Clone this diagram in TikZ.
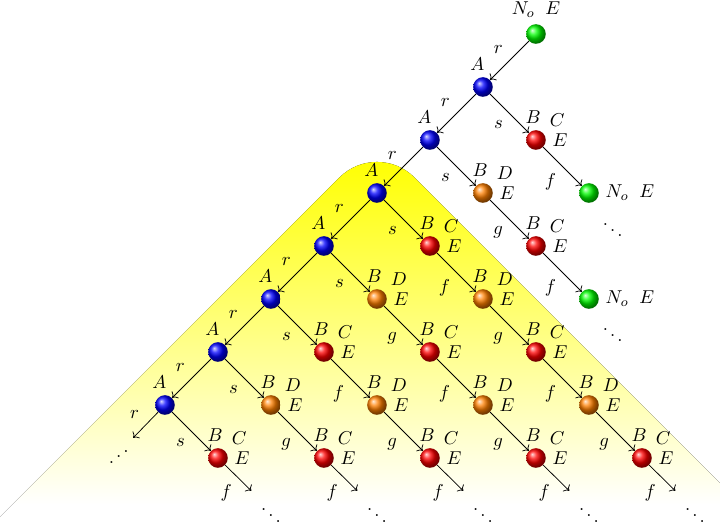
\documentclass[tikz,border=0pt]{standalone}
\usepackage{tikz}
\usetikzlibrary{arrows.meta}
\pgfdeclareverticalshading{yfade}{100bp}{color(0bp)=(white); color(30bp)=(white); color(75bp)=(yellow); color(100bp)=(yellow)}

\begin{document}
\begin{tikzpicture}[
  ball/.style={circle, inner sep=0pt, minimum size=3.7mm},
  ballA/.style={ball, ball color=blue, label={[xshift=-3pt]above:$A$}},
  ballC/.style={ball, ball color=red, label={[xshift=-1.5pt]above:$B$}, label=45:$C$, label=0:$E$},
  ballD/.style={ball, ball color=orange, label={[xshift=-1.5pt]above:$B$}, label=45:$D$, label=0:$E$},
  ballN/.style={ball, ball color=green},
  arrow/.style={->}
]
  \useasboundingbox (-10.113,-9.34) rectangle (3.472,0.6415);

  % Yellow region behind the lower part
  \fill[shading=yfade]
    (-10.6,-9.6) -- (-3.707,-2.707) arc[start angle=135, end angle=45, radius=1]
    -- (4.6,-9.6) -- cycle;

  % Root and the A chain
  \node[ballN, label=above:$N_o\;\;E$] (n0) at (0,0) {};
  \foreach \k in {1,...,7} {
    \node[ballA] (a\k) at (-\k,-\k) {};
  }

  % s children and the chains below them
  \foreach \n/\x/\y/\st in {b10/0/-2/ballC, b20/-1/-3/ballD, b21/0/-4/ballC,
      b30/-2/-4/ballC, b31/-1/-5/ballD, b32/0/-6/ballC, b33/1/-7/ballD, b34/2/-8/ballC,
      b40/-3/-5/ballD, b41/-2/-6/ballC, b42/-1/-7/ballD, b43/0/-8/ballC,
      b50/-4/-6/ballC, b51/-3/-7/ballD, b52/-2/-8/ballC,
      b60/-5/-7/ballD, b61/-4/-8/ballC, b70/-6/-8/ballC} {
    \node[\st] (\n) at (\x,\y) {};
  }

  % Green leaves
  \node[ballN, label=right:$N_o\;\;E$] (b11) at (1,-3) {};
  \node[ballN, label=right:$N_o\;\;E$] (b22) at (1,-5) {};
  \node (d11) at (1.45,-3.6) {$\ddots$};
  \node (d22) at (1.45,-5.58) {$\ddots$};

  % r arrows
  \draw[arrow] (n0) -- node[above left] {$r$} (a1);
  \foreach \k [count=\j from 2] in {1,...,6} {
    \draw[arrow] (a\k) -- node[above left] {$r$} (a\j);
  }

  % s arrows
  \foreach \k in {1,...,7} {
    \draw[arrow] (a\k) -- node[below left] {$s$} (b\k0);
  }

  % f and g arrows
  \foreach \u/\v/\l in {b10/b11/f, b20/b21/g, b21/b22/f,
      b30/b31/f, b31/b32/g, b32/b33/f, b33/b34/g,
      b40/b41/g, b41/b42/f, b42/b43/g,
      b50/b51/f, b51/b52/g, b60/b61/g} {
    \draw[arrow] (\u) -- node[below left] {$\l$} (\v);
  }

  % Open ends at the bottom
  \foreach \n in {b34, b43, b52, b61, b70} {
    \path (\n) ++(0.63,-0.62) coordinate (\n-end);
    \path (\n) ++(1,-0.98) node (\n-dots) {$\ddots$};
    \draw[arrow] (\n) -- node[below left] {$f$} (\n-end);
  }
  \path (a7) ++(-0.6,-0.62) coordinate (a7-end);
  \path (a7) ++(-0.87,-0.87) node (a7-dots) {\reflectbox{$\ddots$}};
  \draw[arrow] (a7) -- node[above left] {$r$} (a7-end);

\end{tikzpicture}
\end{document}
